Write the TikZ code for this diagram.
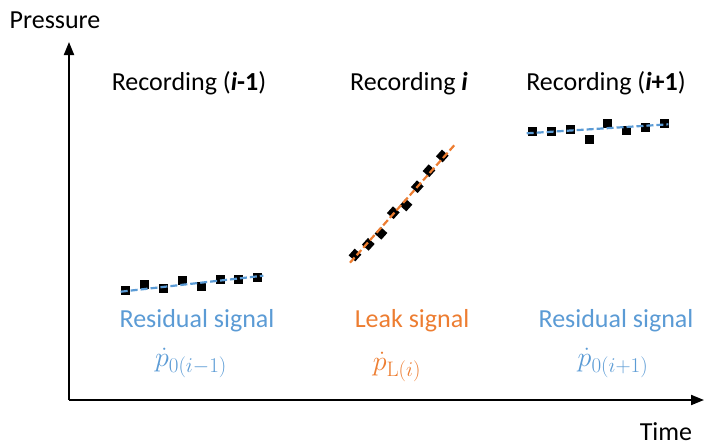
\documentclass[tikz,border=0pt]{standalone}
\usepackage{fix-cm}
\usepackage[no-math]{fontspec}
\setmainfont{Carlito}
\usetikzlibrary{arrows.meta}
\DeclareMathSizes{28}{28}{21}{15}
\definecolor{resblue}{HTML}{5B9BD5}
\definecolor{leakorange}{HTML}{ED7D31}
\begin{document}
\begin{tikzpicture}[x=1pt,y=-1pt,
  lbl/.style={font=\fontsize{26}{30}\selectfont,anchor=base,inner sep=0pt},
  mth/.style={font=\fontsize{28}{32}\selectfont,anchor=base,inner sep=0pt},
  pt/.style={fill=black,minimum size=9pt,inner sep=0pt,draw=none},
  fitline/.style={line width=2.2pt,dash pattern=on 7pt off 3pt},
  axis/.style={line width=2pt,-{Triangle[length=13pt,width=10pt]}}]
\useasboundingbox (0,0) rectangle (704,445);

% axes
\coordinate (origin) at (69,400);
\coordinate (ytip) at (69,42);
\coordinate (xtip) at (704,400);
\draw[axis] (origin) -- (ytip);
\draw[axis] (origin) -- (xtip);
\node[lbl] (ylab) at (55,28) {Pressure};
\node[lbl] (xlab) at (666,440) {Time};

% recording headers
\node[lbl] (h1) at (189,90) {Recording (\textbf{\textit{i}-1})};
\node[lbl] (h2) at (409,90) {Recording \textbf{\textit{i}}};
\node[lbl] (h3) at (606,90) {Recording (\textbf{\textit{i}+1})};

% recording i-1 samples
\foreach \n/\x/\y in {1/125/290,2/144.3/284.3,3/163.3/288.3,4/182.3/280,5/201/286.7,6/220/279.3,7/238.3/279.3,8/257.3/277.7}
  \node[pt] (a\n) at (\x,\y) {};
\coordinate (a0) at (120.7,291.7);
\coordinate (a9) at (263.3,275.7);
\draw[fitline,resblue] (a0) -- (a9);

% recording i samples
\foreach \n/\x/\y in {1/355/255,2/368.3/244.3,3/381/233.3,4/393.3/212.7,5/406/205,6/417.3/186.7,7/429/170.7,8/442.3/156}
  \node[pt,rotate=48] (b\n) at (\x,\y) {};
\coordinate (b0) at (350,262.7);
\coordinate (b9) at (456,143.3);
\draw[fitline,leakorange] (b0) -- (b9);

% recording i+1 samples
\foreach \n/\x/\y in {1/532.3/131,2/551/131.7,3/570/129.3,4/589/139,5/607.7/123.3,6/626.7/130,7/645.7/127.3,8/664.3/123.3}
  \node[pt] (c\n) at (\x,\y) {};
\coordinate (c0) at (526.7,133.3);
\coordinate (c9) at (668.3,124.3);
\draw[fitline,resblue] (c0) -- (c9);

% signal labels
\node[lbl,text=resblue] (s1) at (197,327) {Residual signal};
\node[lbl,text=leakorange] (s2) at (412,327) {Leak signal};
\node[lbl,text=resblue] (s3) at (616,327) {Residual signal};
\node[mth,text=resblue] (m1) at (191,366) {$\dot{p}_{0(i-1)}$};
\node[mth,text=leakorange] (m2) at (397,370) {$\dot{p}_{\mathrm{L}(i)}$};
\node[mth,text=resblue] (m3) at (613,366) {$\dot{p}_{0(i+1)}$};
\end{tikzpicture}
\end{document}
